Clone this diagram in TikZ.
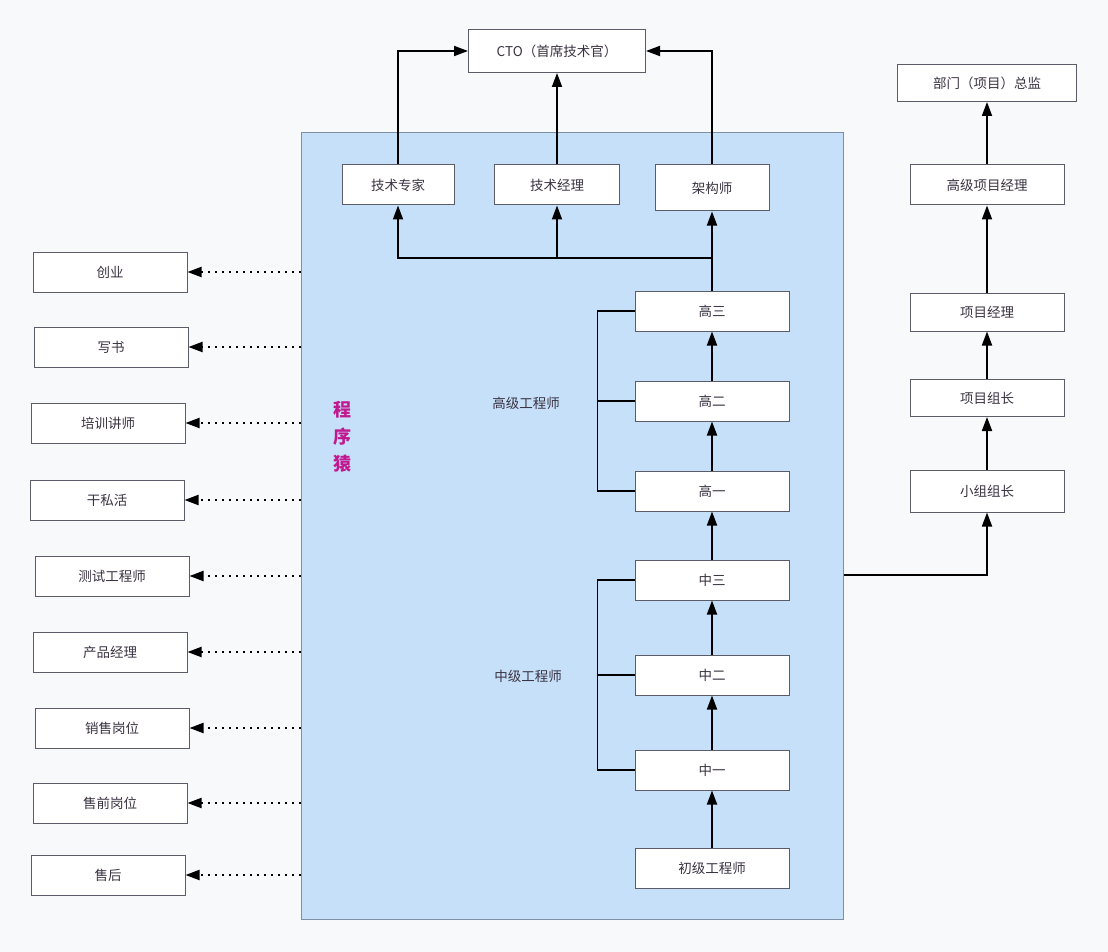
\documentclass[tikz,border=0pt]{standalone}
\usepackage{fontspec}
\setmainfont{Noto Sans CJK SC}
\usetikzlibrary{arrows.meta,calc,positioning}
\definecolor{bgpaper}{HTML}{F8F9FB}
\definecolor{boxblue}{HTML}{C6E0FA}
\definecolor{edgeblue}{HTML}{7E90A6}
\definecolor{boxedge}{HTML}{5C5C68}
\definecolor{txtgray}{HTML}{3A3342}
\definecolor{monkey}{HTML}{C2188F}
\tikzset{Txt/.style={rectangle,draw=boxedge,fill=white,line width=1pt,minimum width=154pt,minimum height=40pt,inner sep=0pt,text=txtgray,font=\fontsize{13.5}{15}\selectfont}}
\tikzset{Lbl/.style={text=txtgray,font=\fontsize{13.5}{15}\selectfont}}
\tikzset{Tip/.style={-{Triangle[length=14pt,width=10pt]}}}
\tikzset{Dots/.style={line width=2pt,dash pattern=on 2pt off 5pt}}

\begin{document}
\begin{tikzpicture}[x=1pt,y=-1pt]
    \useasboundingbox[fill=bgpaper] (0,0) rectangle (1108,952);
    \node[draw=edgeblue,fill=boxblue,line width=1pt,minimum width=542pt,minimum height=786pt,inner sep=0pt] (PG) at (572,526) {};
    \node[text=monkey,font=\bfseries\fontsize{18}{27}\selectfont,align=center] (Mk) at (342,437) {程\\序\\猿};
    \node[Txt,minimum width=177pt,minimum height=43pt] (CTO) at (557,51) {CTO（首席技术官）};
    \node[Txt,minimum width=112pt] (T1) at (398,185) {技术专家};
    \node[Txt,minimum width=125pt] (T2) at (557,185) {技术经理};
    \node[Txt,minimum width=114pt,minimum height=46pt] (T3) at (712,188) {架构师};
    \node[Txt] (G3) at (712,311) {高三};
    \node[Txt] (G2) at (712,401) {高二};
    \node[Txt] (G1) at (712,491) {高一};
    \node[Txt] (Z3) at (712,580) {中三};
    \node[Txt] (Z2) at (712,675) {中二};
    \node[Txt] (Z1) at (712,770) {中一};
    \node[Txt] (C0) at (712,868) {初级工程师};
    \node[Lbl] (Gl) at (526,403) {高级工程师};
    \node[Lbl] (Zl) at (528,676) {中级工程师};
    \node[Txt,minimum width=179pt,minimum height=37pt] (X5) at (987,83) {部门（项目）总监};
    \node[Txt] (X4) at (987,185) {高级项目经理};
    \node[Txt,minimum height=38pt] (X3) at (987,312) {项目经理};
    \node[Txt,minimum height=37pt] (X2) at (987,398) {项目组长};
    \node[Txt,minimum height=42pt] (X1) at (987,491) {小组组长};
    \foreach \n/\x/\y/\t in {L1/110/272/创业,L2/111/347/写书,L3/108/423/培训讲师,L4/107/500/干私活,L5/112/576/测试工程师,L6/110/652/产品经理,L7/112/728/销售岗位,L8/110/803/售前岗位,L9/108/875/售后}
      \node[Txt] (\n) at (\x,\y) {\t};
    \coordinate (B) at (712,258);
    \begin{scope}[line width=1.8pt,Tip]
      \draw (T1.north) |- (CTO.west);
      \draw (T2.north) -- (CTO.south);
      \draw (T3.north) |- (CTO.east);
      \draw (G3.north) -- (T3.south);
      \draw (B) -| (T1.south);
      \draw (T2.south |- B) -- (T2.south);
      \draw (G2) -- (G3);
      \draw (G1) -- (G2);
      \draw (Z3) -- (G1);
      \draw (Z2) -- (Z3);
      \draw (Z1) -- (Z2);
      \draw (C0) -- (Z1);
      \draw (X1) -- (X2);
      \draw (X2) -- (X3);
      \draw (X3) -- (X4);
      \draw (X4) -- (X5);
      \draw ([yshift=-49pt]PG.east) -| (X1.south);
    \end{scope}
    \begin{scope}[line width=1.8pt]
      \draw (G3.west) -- ++(-37,0) |- (G1.west);
      \draw (G2.west) -- ++(-37,0);
      \draw (Z3.west) -- ++(-37,0) |- (Z1.west);
      \draw (Z2.west) -- ++(-37,0);
    \end{scope}
    \begin{scope}[Dots]
      \foreach \n in {L1,L2,L3,L4,L5,L6,L7,L8,L9}
        \draw[Tip] (PG.west |- \n) -- (\n.east);
    \end{scope}
  \end{tikzpicture}
\end{document}
